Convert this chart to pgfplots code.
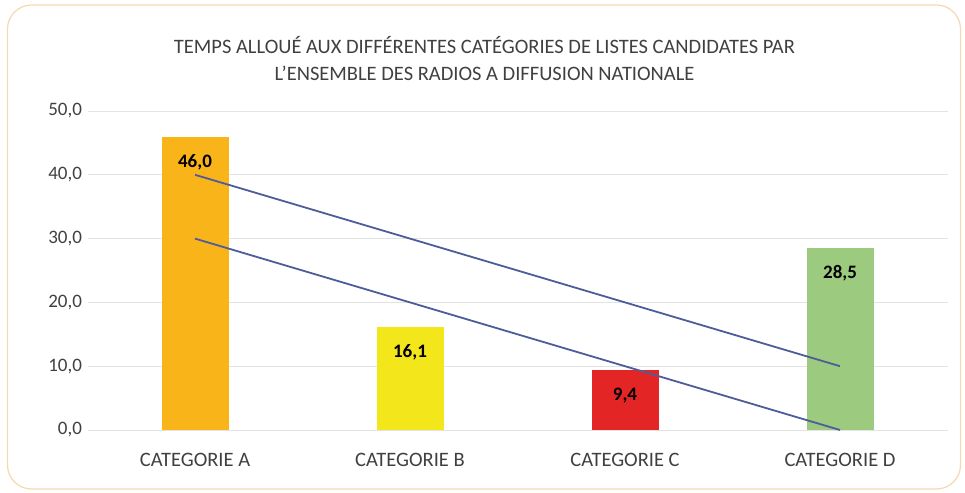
\documentclass[border=0pt]{standalone}
\usepackage{pgfplots}
\pgfplotsset{compat=1.18}
\usepackage{fontspec}
\setmainfont{Carlito}
\definecolor{catA}{HTML}{F8B418}
\definecolor{catB}{HTML}{F3E61A}
\definecolor{catC}{HTML}{E42525}
\definecolor{catD}{HTML}{9CCB80}
\definecolor{linecol}{HTML}{4E5C9A}
\definecolor{gridcol}{HTML}{E3E3E3}
\definecolor{framecol}{HTML}{F5D7B0}
\definecolor{txtcol}{HTML}{404040}
\pgfkeys{/pgf/number format/.cd, fixed, fixed zerofill, precision=1, use comma, assume math mode=true}
\begin{document}
\begin{tikzpicture}[x=1pt,y=1pt]
\path[use as bounding box] (-87.5,-62) rectangle (877.5,430);
\draw[framecol, line width=1.2pt, rounded corners=24pt] (-80,-59) rectangle (873,425);
\begin{axis}[
  at={(0,0)}, anchor=south west,
  scale only axis, width=860pt, height=319pt,
  xmin=-0.5, xmax=3.5, ymin=0, ymax=50,
  axis line style={draw=none},
  tick style={draw=none},
  xtick={0,1,2,3},
  xticklabels={CATEGORIE A, CATEGORIE B, CATEGORIE C, CATEGORIE D},
  ytick={0,10,20,30,40,50},
  ymajorgrids, major grid style={gridcol, line width=1pt},
  yticklabel={\pgfmathprintnumber{\tick}},
  y tick label style={font=\fontsize{19}{22}\selectfont, text=txtcol, xshift=-2pt},
  x tick label style={font=\fontsize{20.5}{24}\selectfont, text=txtcol, yshift=-20pt},
  clip=false,
]
\pgfplotsset{barstyle/.style={ybar, bar width=67pt, bar shift=0pt, draw=none,
  nodes near coords, nodes near coords style={anchor=north, yshift=-14pt, font=\bfseries\fontsize{19}{22}\selectfont, text=black}}}
\addplot[barstyle, fill=catA] coordinates {(0,46.0)};
\addplot[barstyle, fill=catB] coordinates {(1,16.1)};
\addplot[barstyle, fill=catC] coordinates {(2,9.4)};
\addplot[barstyle, fill=catD] coordinates {(3,28.5)};
\addplot[linecol, line width=1.8pt, mark=none] coordinates {(0,40) (3,10)};
\addplot[linecol, line width=1.8pt, mark=none] coordinates {(0,30) (3,0)};
\end{axis}
\node[align=center, text=txtcol, font=\fontsize{20.5}{27}\selectfont] at (397,371)
  {TEMPS ALLOUÉ AUX DIFFÉRENTES CATÉGORIES DE LISTES CANDIDATES PAR\\L'ENSEMBLE DES RADIOS A DIFFUSION NATIONALE};
\end{tikzpicture}
\end{document}
